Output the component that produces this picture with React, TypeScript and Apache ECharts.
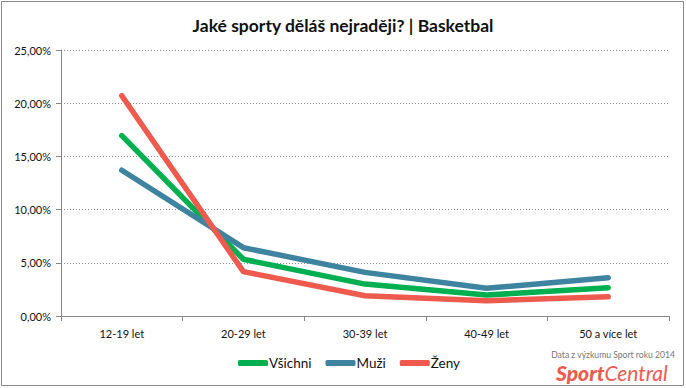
import React, { useEffect, useRef } from "react";
import * as echarts from "echarts";

const categories = ["12-19 let", "20-29 let", "30-39 let", "40-49 let", "50 a více let"];
const vsichni = [16.95, 5.33, 3.0, 1.97, 2.66];
const muzi = [13.7, 6.42, 4.1, 2.6, 3.6];
const zeny = [20.7, 4.17, 1.9, 1.44, 1.82];
const yTicks = { min: 0, max: 25, interval: 5 };

const FONT = "Lato, 'Open Sans', sans-serif";

export default function App() {
  const ref = useRef<HTMLDivElement>(null);
  useEffect(() => {
    document.body.style.margin = "0";
    const chart = echarts.init(ref.current!, null, { renderer: "svg" });
    const mk = (name: string, data: number[], color: string) => ({
      name,
      type: "line",
      data,
      symbol: "none",
      lineStyle: { width: 5.5, color, cap: "round", join: "round" },
      itemStyle: { color },
    });
    chart.setOption({
      animation: false,
      backgroundColor: "#fff",
      textStyle: { fontFamily: FONT },
      title: {
        text: "Jaké sporty děláš nejraději? | Basketbal",
        left: "center",
        top: 11,
        textStyle: { fontFamily: FONT, fontSize: 17.5, fontWeight: "bold", color: "#111" },
      },
      grid: { left: 61, right: 17, top: 50, bottom: 72 },
      legend: {
        left: 233,
        top: 351,
        icon: "roundRect",
        itemWidth: 30,
        itemHeight: 6,
        itemGap: 14,
        textStyle: { fontFamily: FONT, fontSize: 13.5, color: "#111", padding: [0, 0, 0, -4] },
        data: ["Všichni", "Muži", "Ženy"],
      },
      xAxis: {
        type: "category",
        data: categories,
        boundaryGap: true,
        axisLine: { lineStyle: { color: "#868686", width: 1 } },
        axisTick: { show: true, length: 5, lineStyle: { color: "#868686" } },
        axisLabel: { color: "#111", fontSize: 11, margin: 12, fontFamily: FONT },
      },
      yAxis: {
        type: "value",
        min: yTicks.min,
        max: yTicks.max,
        interval: yTicks.interval,
        axisLine: { show: true, lineStyle: { color: "#868686" } },
        axisTick: { show: true, length: 5, lineStyle: { color: "#868686" } },
        axisLabel: {
          color: "#111",
          fontSize: 11,
          margin: 10,
          fontFamily: FONT,
          formatter: (v: number) => v.toFixed(2).replace(".", ",") + "%",
        },
        splitLine: { show: true, lineStyle: { color: "#8a8a8a", type: [1, 2], width: 1 } },
      },
      graphic: [
        {
          type: "rect",
          shape: { x: 1.5, y: 1.5, width: 682, height: 384 },
          style: { fill: "none", stroke: "#8a8a8a", lineWidth: 1 },
          silent: true,
        },
        {
          type: "text",
          x: 675,
          y: 355,
          style: {
            text: "Data z výzkumu Sport roku 2014",
            fill: "#777",
            font: "8.6px " + FONT,
            align: "right",
            verticalAlign: "middle",
          },
        },
        {
          type: "text",
          x: 556,
          y: 372,
          style: {
            text: "{b|Sport}{n|Central}",
            verticalAlign: "middle",
            rich: {
              b: { fill: "#ee5a4e", fontSize: 21, fontWeight: "900", fontStyle: "italic", fontFamily: FONT },
              n: { fill: "#ee5a4e", fontSize: 21, fontStyle: "italic", fontFamily: FONT },
            },
          },
        },
      ],
      series: [
        mk("Všichni", vsichni, "#00b050"),
        mk("Muži", muzi, "#3e84a0"),
        mk("Ženy", zeny, "#ee5a4e"),
      ],
    });
    return () => chart.dispose();
  }, []);
  return <div ref={ref} style={{ width: 686, height: 388 }} />;
}
